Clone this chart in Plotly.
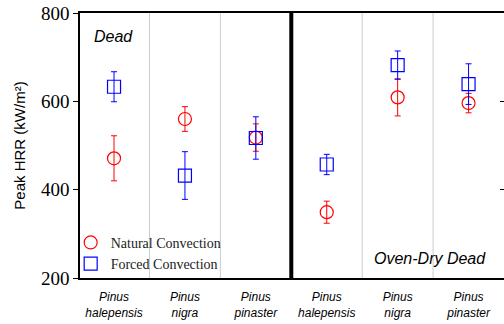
import plotly.graph_objects as go

categories = ["Pinus<br>halepensis", "Pinus<br>nigra", "Pinus<br>pinaster",
              "Pinus<br>halepensis", "Pinus<br>nigra", "Pinus<br>pinaster"]
natural_mean = [471, 560, 518, 349, 609, 596]
natural_err = [51, 28, 31, 25, 42, 22]
forced_mean = [633, 432, 517, 457, 682, 639]
forced_err = [34, 54, 48, 23, 32, 46]
y_ticks = [200, 400, 600, 800]

xpos = list(range(len(categories)))
tick_text = ["<i>" + c.replace("<br>", "</i><br><i>") + "</i>" for c in categories]

fig = go.Figure()
fig.add_trace(go.Scatter(
    x=xpos, y=natural_mean, mode="markers", name="Natural Convection",
    marker=dict(symbol="circle-open", size=13, color="#ff0000", line=dict(width=1.2)),
    error_y=dict(type="data", array=natural_err, color="#ff0000", thickness=1, width=3),
))
fig.add_trace(go.Scatter(
    x=xpos, y=forced_mean, mode="markers", name="Forced Convection",
    marker=dict(symbol="square-open", size=13, color="#0000ff", line=dict(width=1.2)),
    error_y=dict(type="data", array=forced_err, color="#0000ff", thickness=1, width=3),
))
# invisible trace for right-side ticks
fig.add_trace(go.Scatter(x=[xpos[0]], y=[y_ticks[0]], yaxis="y2", mode="markers",
                         marker=dict(opacity=0), showlegend=False, hoverinfo="skip"))

# separators between categories
for i in range(len(categories) - 1):
    b = xpos[i] + 0.5
    if i == 2:
        fig.add_shape(type="line", xref="x", yref="paper", x0=b, x1=b, y0=0, y1=1,
                      line=dict(color="black", width=4), layer="above")
    else:
        fig.add_shape(type="line", xref="x", yref="paper", x0=b, x1=b, y0=0, y1=1,
                      line=dict(color="#cccccc", width=1), layer="below")

fig.add_annotation(text="<i>Dead</i>", xref="paper", yref="paper", x=0.028, y=0.913,
                   xanchor="left", yanchor="middle", showarrow=False,
                   font=dict(family="Liberation Sans, Arial", size=16, color="black"))
fig.add_annotation(text="<i>Oven-Dry Dead</i>", xref="paper", yref="paper", x=0.962, y=0.072,
                   xanchor="right", yanchor="middle", showarrow=False,
                   font=dict(family="Liberation Sans, Arial", size=16, color="black"))

fig.update_layout(
    width=504, height=324,
    margin=dict(l=80, r=0, t=13, b=46),
    paper_bgcolor="white", plot_bgcolor="white",
    showlegend=True,
    legend=dict(x=-0.022, y=-0.007, xanchor="left", yanchor="bottom",
                bgcolor="rgba(0,0,0,0)", tracegroupgap=0, itemwidth=30,
                font=dict(family="Liberation Serif, Times New Roman", size=14, color="#222")),
    xaxis=dict(range=[-0.48, 5.5], tickmode="array", tickvals=xpos, ticktext=tick_text,
               showgrid=False, zeroline=False, showline=True, linecolor="black", linewidth=1.5,
               mirror=True, ticks="outside", ticklen=7, tickcolor="rgba(0,0,0,0)",
               tickfont=dict(family="Liberation Sans, Arial", size=12, color="black"),
               tickangle=0, fixedrange=True),
    yaxis=dict(range=[200, 800], tickmode="array", tickvals=y_ticks,
               showgrid=False, zeroline=False, showline=True, linecolor="black", linewidth=1.5,
               ticks="outside", ticklen=5, tickcolor="black",
               tickfont=dict(family="Liberation Serif, Times New Roman", size=19, color="black"),
               title=dict(text="Peak HRR (kW/m²)", standoff=12,
                          font=dict(family="Liberation Sans, Arial", size=15, color="black"))),
    yaxis2=dict(range=[200, 800], overlaying="y", side="right", tickmode="array",
                tickvals=y_ticks, showticklabels=False, ticks="inside", ticklen=4,
                tickcolor="black", showgrid=False, zeroline=False, showline=False),
)

fig.write_html("out.html")
